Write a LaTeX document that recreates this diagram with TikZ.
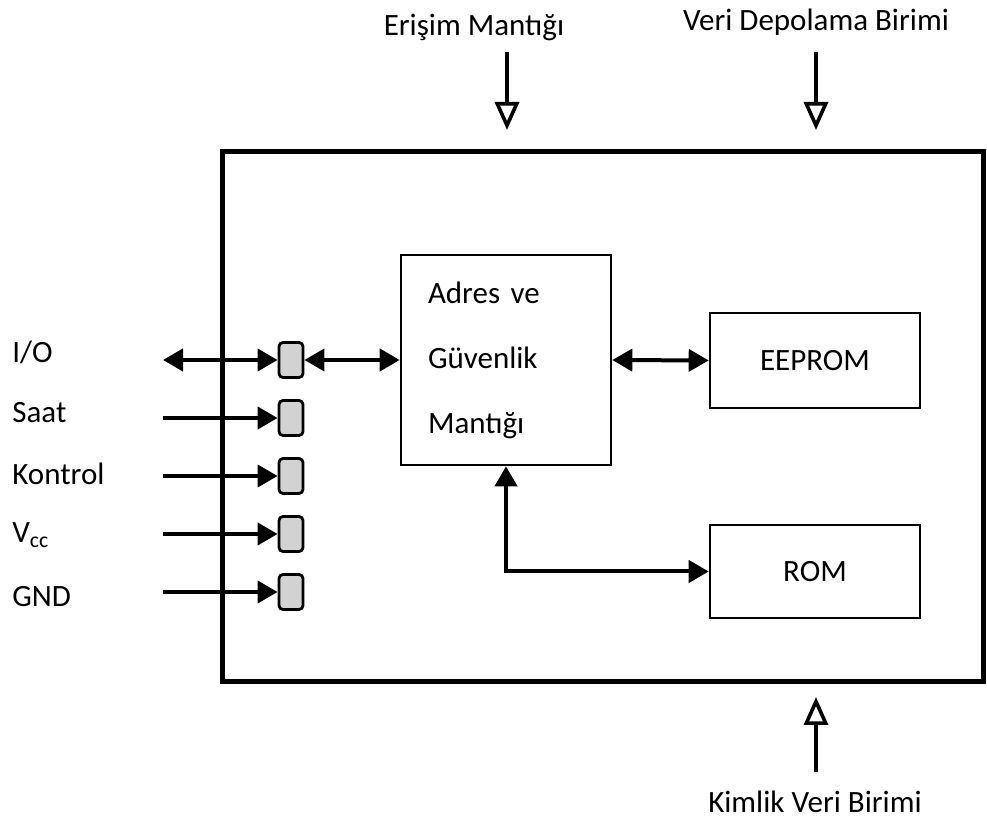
\documentclass[tikz,border=0pt]{standalone}
\usepackage{fontspec}
\setmainfont{Carlito}
\usetikzlibrary{arrows.meta, positioning}

\begin{document}
\begin{tikzpicture}[
    x=0.5pt, y=-0.5pt,
    font=\fontsize{15.5}{18}\selectfont,
    chip/.style={
        rectangle,
        draw,
        line width=2.5pt,
        minimum width=380.5pt,
        minimum height=265pt
    },
    block/.style={
        rectangle,
        draw,
        line width=1.3pt,
        minimum width=105pt,
        minimum height=47pt
    },
    pin/.style={
        rectangle,
        draw,
        rounded corners=2pt,
        fill=gray!35,
        line width=1.4pt,
        minimum width=12pt,
        minimum height=17.5pt,
        inner sep=0pt
    },
    signal/.style={anchor=base west, inner sep=0pt},
    caption/.style={anchor=base, inner sep=0pt},
    arrow/.style={-{Triangle[length=10pt, width=11pt]}, line width=2pt},
    dblarrow/.style={{Triangle[length=10pt, width=11pt]}-{Triangle[length=10pt, width=11pt]}, line width=2pt},
    hollow/.style={-{Triangle[open, length=14pt, width=12pt]}, line width=1.8pt},
    node distance=10.1pt
]
\useasboundingbox (0,0) rectangle (987,823);

\node[chip] (chip) at (602.5,417) {};

\node[block, minimum height=105pt, text width=78pt, align=left,
      font=\fontsize{15.5}{32.5}\selectfont] (logic) at (506,360) {
    Adres ve\\
    Güvenlik\\
    Mantığı
};

\node[block, minimum height=47.5pt] (eeprom) at (815,360.5) {EEPROM};
\node[block, minimum height=46.5pt] (rom) at (815,571.5) {ROM};

% contact pads
\node[pin] (pin1) at (291,360) {};
\node[pin, below=of pin1] (pin2) {};
\node[pin, below=of pin2] (pin3) {};
\node[pin, below=of pin3] (pin4) {};
\node[pin, below=of pin4] (pin5) {};

% signal names
\node[signal] (io)   at (12,363) {I/O};
\node[signal] (clk)  at (12,423) {Saat};
\node[signal] (ctl)  at (12,485) {Kontrol};
\node[signal] (vcc)  at (12,543) {V\textsubscript{cc}};
\node[signal] (gnd)  at (12,607) {GND};

\coordinate (io in)  at (163,360);
\coordinate (clk in) at (io in |- pin2);
\coordinate (ctl in) at (io in |- pin3);
\coordinate (vcc in) at (io in |- pin4);
\coordinate (gnd in) at (io in |- pin5);

\draw[dblarrow] (io in) -- (pin1.west);
\draw[arrow] (clk in) -- (pin2.west);
\draw[arrow] (ctl in) -- (pin3.west);
\draw[arrow] (vcc in) -- (pin4.west);
\draw[arrow] (gnd in) -- (pin5.west);

\draw[dblarrow] (pin1.east) -- (logic.west);
\draw[dblarrow] (logic.east) -- (eeprom.west);
\draw[dblarrow] (logic.south) |- (rom.west);

% outside units
\node[caption] (access) at (474,36) {Erişim Mantığı};
\node[caption] (store) at (816,31) {Veri Depolama Birimi};
\node[caption] (ident) at (815,813) {Kimlik Veri Birimi};

\coordinate (access top) at (507,52);
\coordinate (access tip) at (507,130);
\coordinate (store top) at (816,52);
\coordinate (store tip) at (816,130);
\coordinate (ident bot) at (816,772);
\coordinate (ident tip) at (816,697);

\draw[hollow] (access top) -- (access tip);
\draw[hollow] (store top) -- (store tip);
\draw[hollow] (ident bot) -- (ident tip);

\end{tikzpicture}
\end{document}
